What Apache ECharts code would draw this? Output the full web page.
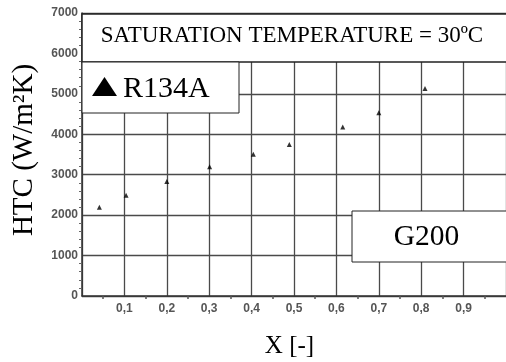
<!DOCTYPE html>
<html>
<head>
<meta charset="utf-8">
<script src="https://cdn.jsdelivr.net/npm/echarts@6/dist/echarts.min.js"></script>
<style>html,body{margin:0;padding:0;background:#fff;}#c{width:506px;height:362px;}</style>
</head>
<body>
<div id="c"></div>
<script>
const qualityX = [0.041, 0.104, 0.200, 0.301, 0.404, 0.489, 0.615, 0.700, 0.809];
const htcValues = [2195, 2490, 2830, 3200, 3505, 3745, 4180, 4535, 5130];
const seriesName = 'R134A';
const titleText = 'SATURATION TEMPERATURE = 30ºC';
const geometryText = 'G200';
const xAxisTitle = 'X [-]';
const yAxisTitle = 'HTC (W/m²K)';

const chart = echarts.init(document.getElementById('c'), null, {renderer: 'canvas'});
const gridColor = '#4a4a4a';
const serif = '"Liberation Serif", "Times New Roman", serif';
const sans = 'Arial, "Liberation Sans", sans-serif';
chart.setOption({
  animation: false,
  backgroundColor: '#fff',
  grid: {left: 82, top: 13, width: 425, height: 283, containLabel: false},
  xAxis: {
    type: 'value', min: 0, max: 1, interval: 0.1,
    axisLine: {show: true, lineStyle: {color: '#333', width: 1.5}},
    axisTick: {show: false},
    minorTick: {show: true, splitNumber: 2, length: 3, lineStyle: {color: '#555', width: 1.5}},
    splitLine: {show: true, lineStyle: {color: gridColor, width: 1.3}},
    axisLabel: {
      showMinLabel: false, showMaxLabel: false, margin: 7,
      color: '#555', fontFamily: sans, fontWeight: 'bold', fontSize: 12,
      formatter: v => v.toFixed(1).replace('.', ',')
    }
  },
  yAxis: {
    type: 'value', min: 0, max: 7000, interval: 1000,
    axisLine: {show: true, lineStyle: {color: '#333', width: 1.5}},
    axisTick: {show: false},
    minorTick: {show: true, splitNumber: 5, length: 3, lineStyle: {color: '#666', width: 1}},
    splitLine: {show: true, lineStyle: {color: gridColor, width: 1.3}},
    axisLabel: {
      margin: 4, color: '#555', fontFamily: sans, fontWeight: 'bold', fontSize: 12,
      formatter: v => String(v)
    }
  },
  series: [{
    name: seriesName, type: 'scatter', symbol: 'triangle', symbolSize: 5,
    itemStyle: {color: '#000'},
    data: qualityX.map((x, i) => [x, htcValues[i]])
  }],
  graphic: [
    {type: 'rect', shape: {x: 82, y: 14, width: 430, height: 48}, style: {fill: '#fff', stroke: '#222', lineWidth: 1.5}, z: 100},
    {type: 'text', x: 292, y: 36, style: {text: titleText, font: '23px ' + serif, fill: '#000', textAlign: 'center', textVerticalAlign: 'middle'}, z: 101},
    {type: 'rect', shape: {x: 82, y: 62, width: 157, height: 51}, style: {fill: '#fff', stroke: '#222', lineWidth: 1}, z: 100},
    {type: 'polygon', shape: {points: [[92, 96], [117, 96], [104.5, 77]]}, style: {fill: '#000'}, z: 101},
    {type: 'text', x: 123, y: 89, style: {text: seriesName, font: '30px ' + serif, fill: '#000', textAlign: 'left', textVerticalAlign: 'middle'}, z: 101},
    {type: 'rect', shape: {x: 352, y: 211, width: 160, height: 51}, style: {fill: '#fff', stroke: '#222', lineWidth: 1}, z: 100},
    {type: 'text', x: 426.5, y: 237.5, style: {text: geometryText, font: '29.5px ' + serif, fill: '#000', textAlign: 'center', textVerticalAlign: 'middle'}, z: 101},
    {type: 'text', x: 289.5, y: 346, style: {text: xAxisTitle, font: '25px ' + serif, fill: '#000', textAlign: 'center', textVerticalAlign: 'middle'}, z: 101},
    {type: 'text', x: 24, y: 150, rotation: Math.PI / 2, style: {text: yAxisTitle, font: '29px ' + serif, fill: '#000', textAlign: 'center', textVerticalAlign: 'middle'}, z: 101}
  ]
});
</script>
</body>
</html>
